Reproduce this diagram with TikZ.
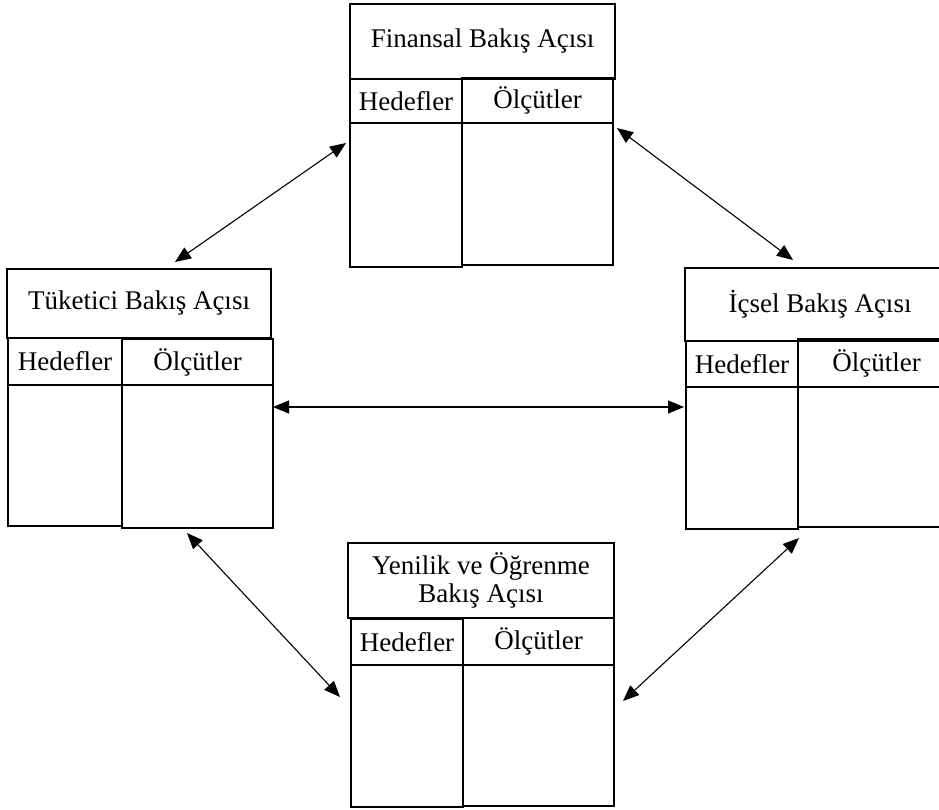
\documentclass[tikz,border=0pt]{standalone}
\usepackage{fontspec}
\setmainfont{Liberation Serif}
\usetikzlibrary{arrows.meta}
\begin{document}
\begin{tikzpicture}[x=1pt,y=-1pt,
  cell/.style={draw, line width=1.5pt, anchor=north west, inner sep=0pt, outer sep=0pt,
    font=\fontsize{27}{28.5}\selectfont, align=center},
  sz/.style 2 args={minimum width=#1pt, minimum height=#2pt},
  link/.style={line width=1.1pt, {Triangle[length=16pt,width=13pt]}-{Triangle[length=16pt,width=13pt]}}]
\useasboundingbox (0,0) rectangle (939,809);
\clip (0,0) rectangle (939,809);
% Finansal
\node[cell, sz={265}{75}] (F-t) at (350,4) {Finansal Bakış Açısı};
\node[cell, sz={112}{44}] (F-h) at (350,79) {Hedefler};
\node[cell, sz={151}{45}] (F-o) at (462,78) {Ölçütler};
\node[cell, sz={112}{144}] (F-hl) at (350,123) {};
\node[cell, sz={151}{142}] (F-ol) at (462,123) {};
% Tuketici
\node[cell, sz={264}{69}] (T-t) at (7,269) {Tüketici Bakış Açısı};
\node[cell, sz={114}{47}] (T-h) at (8,338) {Hedefler};
\node[cell, sz={151}{46}] (T-o) at (122,339) {Ölçütler};
\node[cell, sz={114}{141}] (T-hl) at (8,385) {};
\node[cell, sz={151}{143}] (T-ol) at (122,385) {};
% Icsel
\node[cell, sz={270}{73}] (I-t) at (685,268) {İçsel Bakış Açısı};
\node[cell, sz={112}{46}] (I-h) at (686,341) {Hedefler};
\node[cell, sz={157}{48}] (I-o) at (798,339) {Ölçütler};
\node[cell, sz={112}{142}] (I-hl) at (686,387) {};
\node[cell, sz={157}{140}] (I-ol) at (798,387) {};
% Yenilik
\node[cell, sz={266}{75}] (Y-t) at (348,543) {Yenilik ve Öğrenme\\Bakış Açısı};
\node[cell, sz={112}{46}] (Y-h) at (351,619) {Hedefler};
\node[cell, sz={151}{47}] (Y-o) at (463,618) {Ölçütler};
\node[cell, sz={112}{142}] (Y-hl) at (351,665) {};
\node[cell, sz={151}{141}] (Y-ol) at (463,665) {};
% arrow ends
\coordinate (a1s) at (346,143);
\coordinate (a1e) at (175,262);
\coordinate (a2s) at (617,128);
\coordinate (a2e) at (793,260);
\coordinate (a3s) at (273,407);
\coordinate (a3e) at (684,407);
\coordinate (a4s) at (187,533);
\coordinate (a4e) at (340,697);
\coordinate (a5s) at (799,538);
\coordinate (a5e) at (623,701);
\draw[link] (a1s) -- (a1e);
\draw[link] (a2s) -- (a2e);
\draw[link] (a3s) -- (a3e);
\draw[link] (a4s) -- (a4e);
\draw[link] (a5s) -- (a5e);
\end{tikzpicture}
\end{document}
